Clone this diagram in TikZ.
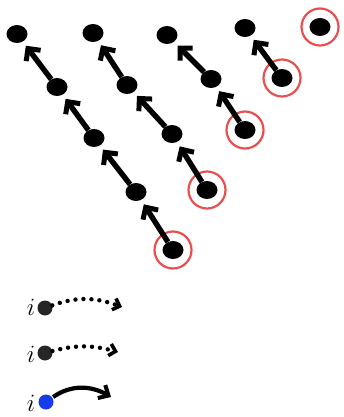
\documentclass[tikz,border=0pt]{standalone}
\usepackage{xcolor}
\usepackage{amsmath, amssymb}
\usepackage{tikz}
\usetikzlibrary{arrows.meta, shapes.geometric}

\definecolor{ringred}{RGB}{232,80,80}
\definecolor{dotblue}{RGB}{20,60,235}

\begin{document}
\begin{tikzpicture}[x=1pt, y=-1pt,
    dot/.style={ellipse, fill=black, inner sep=0pt, minimum width=21pt, minimum height=18pt},
    smalldot/.style={circle, fill=black!85, inner sep=0pt, minimum size=15pt},
    ring/.style={draw=ringred, circle, line width=2.2pt, minimum size=37pt, inner sep=0pt},
    arr/.style={-{Straight Barb[length=9pt, width=18pt, line width=5pt]}, line width=5.4pt, shorten >=5pt, shorten <=0pt},
    dotarr/.style={-{Straight Barb[length=6pt, width=12pt, line width=3.6pt]}, line width=4.4pt, line cap=round, dash pattern=on 0pt off 8pt},
    label/.style={font=\fontsize{25}{25}\selectfont, inner sep=1pt}]
    \useasboundingbox (0,0) rectangle (344,417);

    % first diagonal
    \node[dot] at (17, 34) (a0) {};
    \node[dot] at (57, 87) (a1) {};
    \node[dot] at (94, 138) (a2) {};
    \node[dot] at (136, 192) (a3) {};
    \node[dot] at (173, 250) (a4) {};

    % second diagonal
    \node[dot] at (93, 33) (b0) {};
    \node[dot] at (127, 85) (b1) {};
    \node[dot] at (172, 134) (b2) {};
    \node[dot] at (207, 190) (b3) {};

    % third diagonal
    \node[dot] at (167, 35) (c0) {};
    \node[dot] at (211, 79) (c1) {};
    \node[dot] at (245, 130) (c2) {};

    % fourth diagonal
    \node[dot] at (245, 28) (d0) {};
    \node[dot] at (282, 78) (d1) {};

    % last one
    \node[dot] at (320, 27) (e0) {};

    % red rings
    \node[ring] at (a4) (ra) {};
    \node[ring] at (b3) (rb) {};
    \node[ring] at (c2) (rc) {};
    \node[ring] at (d1) (rd) {};
    \node[ring] at (e0) (re) {};

    \draw[arr] (a1) -- (a0);
    \draw[arr] (a2) -- (a1);
    \draw[arr] (a3) -- (a2);
    \draw[arr] (a4) -- (a3);
    \draw[arr] (b1) -- (b0);
    \draw[arr] (b2) -- (b1);
    \draw[arr] (b3) -- (b2);
    \draw[arr] (c1) -- (c0);
    \draw[arr] (c2) -- (c1);
    \draw[arr] (d1) -- (d0);

    % legend
    \node[smalldot] at (45, 308) (l1) {};
    \node[smalldot] at (45, 353) (l2) {};
    \node[circle, fill=dotblue, inner sep=0pt, minimum size=15pt] at (46, 402) (l3) {};
    \node[label] at (31, 307) (i1) {$i$};
    \node[label] at (31, 354) (i2) {$i$};
    \node[label] at (31, 403) (i3) {$i$};
    \coordinate (t1) at (122, 307);
    \coordinate (t2) at (118, 352);
    \coordinate (t3) at (111, 397);

    \draw[dotarr] (l1) to[out=20, in=160] (t1);
    \draw[dotarr] (l2) to[out=15, in=165] (t2);
    \draw[-{Straight Barb[length=8pt, width=15pt, line width=4pt]}, line width=4.2pt, shorten <=1pt] (l3) to[out=35, in=150] (t3);
\end{tikzpicture}
\end{document}
